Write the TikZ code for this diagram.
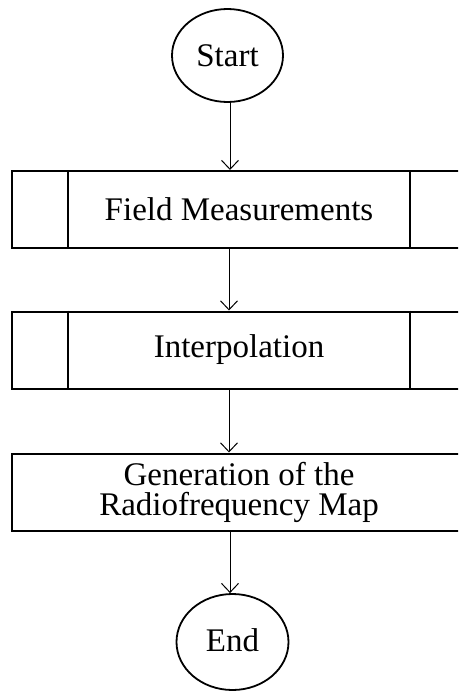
\documentclass[tikz,border=0pt]{standalone}
\usepackage{fontspec}
\setmainfont{Liberation Serif}
\usetikzlibrary{shapes.geometric,arrows.meta}
\tikzset{
  term/.style={draw, ellipse, line width=1.8pt, inner sep=0pt, minimum width=111pt, minimum height=93pt},
  procbox/.style={draw, rectangle, line width=2pt, inner sep=0pt, minimum width=454pt, minimum height=77pt, align=center},
  arr/.style={line width=1pt, -{Straight Barb[length=9pt,width=17pt]}},
  sideline/.style={line width=2pt}
}
\begin{document}
\begin{tikzpicture}[x=1pt,y=-1pt,font=\fontsize{33}{30}\selectfont]
\clip (0,0) rectangle (458,691);
\node[term] (start) at (227.5,55.5) {Start};
\node[procbox] (f1) at (239,209.5) {\raisebox{-6.5pt}{Field Measurements}};
\node[procbox] (f2) at (239,350) {\raisebox{-10.5pt}{Interpolation}};
\node[procbox] (f3) at (239,492) {Generation of the\\Radiofrequency Map};
\node[term, minimum width=112pt, minimum height=96pt] (end) at (232.5,642) {\raisebox{4pt}{End}};
\draw[sideline] ([xshift=57pt]f1.north west) -- ([xshift=57pt]f1.south west);
\draw[sideline] ([xshift=-57pt]f1.north east) -- ([xshift=-57pt]f1.south east);
\draw[sideline] ([xshift=57pt]f2.north west) -- ([xshift=57pt]f2.south west);
\draw[sideline] ([xshift=-57pt]f2.north east) -- ([xshift=-57pt]f2.south east);
\draw[arr] ([xshift=2.5pt]start.south) -- ([xshift=-9pt]f1.north);
\draw[arr] ([xshift=-10pt]f1.south) -- ([xshift=-10pt]f2.north);
\draw[arr] ([xshift=-10pt]f2.south) -- ([xshift=-10pt]f3.north);
\draw[arr] ([xshift=-9pt]f3.south) -- ([xshift=-2.5pt]end.north);
\end{tikzpicture}
\end{document}
